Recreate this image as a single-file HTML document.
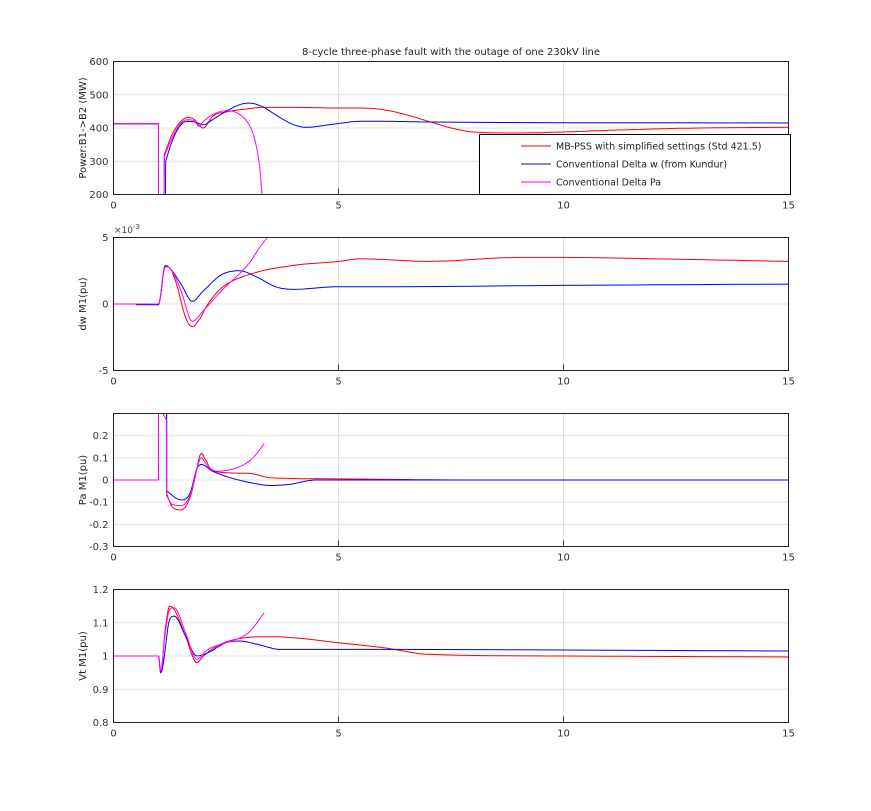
<!DOCTYPE html>
<html><head><meta charset="utf-8"><style>
body{margin:0;background:#fff}
svg{display:block;font-family:"DejaVu Sans","Liberation Sans",sans-serif}
</style></head><body>
<svg id="s" width="871" height="811" viewBox="0 0 871 811" xmlns="http://www.w3.org/2000/svg">
<rect width="871" height="811" fill="#fff"/>
<text x="451" y="55" font-size="10" text-anchor="middle" fill="#222">8-cycle three-phase fault with the outage of one 230kV line</text>
<g id="g"></g>
<rect x="479.5" y="134.5" width="311" height="60" fill="#fff" stroke="#000" stroke-width="1"/>
<line x1="521" y1="146" x2="551" y2="146" stroke="#f00"/>
<line x1="521" y1="164" x2="551" y2="164" stroke="#00f"/>
<line x1="521" y1="182" x2="551" y2="182" stroke="#f0f"/>
<g font-size="9.5" fill="#222">
<text x="556" y="149.5">MB-PSS with simplified settings (Std 421.5)</text>
<text x="556" y="167.5">Conventional Delta w (from Kundur)</text>
<text x="556" y="185.5">Conventional Delta Pa</text>
</g>
</svg>
<script>
var X0=113.5,X1=788.5;
function X(t){return X0+(X1-X0)*t/15;}
var plots=[
{top:61.5,bot:194.5,lo:200,hi:600,ticks:[200,300,400,500,600],lab:["200","300","400","500","600"],yl:"Power:B1->B2 (MW)",
 s:[["#f00",[[0,413],[1,413],[1,150],[1.12,150],[1.13,320],[1.3,380],[1.5,420],[1.65,432],[1.8,425],[1.9,408],[2,400],[2.1,415],[2.2,435],[2.5,448],[3,458],[3.3,462],[4,462],[5,460],[5.5,460],[6,455],[6.5,440],[7,420],[7.5,400],[8,388],[9,385],[10,388],[11,393],[12,397],[13,400],[15,402]]],
 ["#00f",[[0,413],[1,413],[1,150],[1.15,150],[1.16,300],[1.3,360],[1.5,410],[1.65,420],[1.8,418],[2,410],[2.2,425],[2.5,450],[2.8,470],[3,475],[3.3,465],[3.6,440],[4,410],[4.3,402],[4.8,410],[5.5,420],[6,420],[7,418],[15,415]]],
 ["#f0f",[[0,413],[1,413],[1,150],[1.12,150],[1.13,315],[1.3,370],[1.5,415],[1.65,425],[1.8,420],[1.9,405],[2,420],[2.2,440],[2.5,452],[2.7,448],[2.9,430],[3.05,400],[3.15,360],[3.25,280],[3.3,200]]]]},
{top:237.5,bot:370.5,lo:-5,hi:5,ticks:[-5,0,5],lab:["-5","0","5"],yl:"dw M1(pu)",exp:true,
 s:[["#f00",[[0,0],[1,0],[1.15,2.8],[1.25,2.7],[1.4,1.5],[1.6,-1],[1.75,-1.7],[1.9,-1.2],[2.1,0],[2.4,1.2],[3,2.2],[4,2.9],[5,3.2],[5.5,3.4],[7,3.2],[9,3.5],[10,3.5],[12,3.4],[15,3.2]]],
 ["#00f",[[0.5,-0.05],[1,-0.05],[1.15,2.9],[1.25,2.7],[1.5,1.5],[1.75,0.2],[2,1],[2.4,2.2],[2.8,2.5],[3.2,2],[3.6,1.3],[4,1.1],[5,1.3],[6,1.3],[10,1.4],[15,1.5]]],
 ["#f0f",[[0,0],[1,0],[1.15,2.8],[1.25,2.7],[1.5,1],[1.75,-1.3],[2,-0.5],[2.4,1],[3,3],[3.3,4.5],[3.5,5.3]]]]},
{top:413.5,bot:546.5,lo:-0.3,hi:0.3,ticks:[-0.3,-0.2,-0.1,0,0.1,0.2],lab:["-0.3","-0.2","-0.1","0","0.1","0.2"],yl:"Pa M1(pu)",
 s:[["#f00",[[0,0],[1,0],[1,0.35],[1.18,0.35],[1.18,-0.06],[1.3,-0.12],[1.5,-0.135],[1.7,-0.08],[1.8,0],[1.95,0.12],[2.05,0.09],[2.2,0.04],[3,0.03],[3.5,0.01],[5,0.005],[8,0],[15,0]]],
 ["#00f",[[0,0],[1,0],[1,0.35],[1.18,0.35],[1.18,-0.05],[1.5,-0.09],[1.7,-0.06],[1.85,0.05],[1.95,0.07],[2.2,0.04],[2.6,0.01],[3,-0.01],[3.5,-0.025],[3.9,-0.02],[4.5,0],[15,0]]],
 ["#f0f",[[0,0],[1,0],[1,0.35],[1.1,0.3],[1.18,0.27],[1.18,-0.07],[1.3,-0.11],[1.5,-0.115],[1.7,-0.07],[1.85,0.05],[1.95,0.1],[2.1,0.06],[2.3,0.04],[2.8,0.06],[3.1,0.1],[3.35,0.165]]]]},
{top:589.5,bot:722.5,lo:0.8,hi:1.2,ticks:[0.8,0.9,1,1.1,1.2],lab:["0.8","0.9","1","1.1","1.2"],yl:"Vt M1(pu)",
 s:[["#f00",[[0,1],[1,1],[1.05,0.95],[1.15,1.08],[1.25,1.15],[1.35,1.14],[1.6,1.06],[1.85,0.98],[2,1],[2.3,1.03],[2.7,1.05],[3.5,1.058],[4,1.055],[5,1.04],[6,1.025],[7,1.005],[10,1],[15,0.997]]],
 ["#00f",[[0,1],[1,1],[1.05,0.95],[1.25,1.11],[1.35,1.12],[1.6,1.06],[1.85,1],[2.1,1.01],[2.5,1.04],[2.8,1.045],[3.2,1.035],[3.7,1.02],[5,1.02],[15,1.015]]],
 ["#f0f",[[0,1],[1,1],[1.05,0.955],[1.15,1.07],[1.25,1.14],[1.35,1.145],[1.6,1.07],[1.85,0.99],[2.1,1.02],[2.5,1.04],[3,1.07],[3.35,1.13]]]]}
];
function mono(s){
 var n=s.length; if(n<3) return s.slice();
 var d=[],m=[];
 for(var i=0;i<n-1;i++) d.push((s[i+1][1]-s[i][1])/(s[i+1][0]-s[i][0]));
 m[0]=d[0]; m[n-1]=d[n-2];
 for(var i=1;i<n-1;i++){ m[i]=(d[i-1]*d[i]<=0)?0:(d[i-1]+d[i])/2; }
 for(var i=0;i<n-1;i++){ if(d[i]==0){m[i]=0;m[i+1]=0;continue;}
  var a=m[i]/d[i],b=m[i+1]/d[i],q=a*a+b*b; if(q>9){var t=3/Math.sqrt(q);m[i]=t*a*d[i];m[i+1]=t*b*d[i];}}
 var out=[];
 for(var i=0;i<n-1;i++){var h=s[i+1][0]-s[i][0];
  for(var k=0;k<10;k++){var t=k/10,t2=t*t,t3=t2*t;
   var y=(2*t3-3*t2+1)*s[i][1]+(t3-2*t2+t)*h*m[i]+(-2*t3+3*t2)*s[i+1][1]+(t3-t2)*h*m[i+1];
   out.push([s[i][0]+t*h,y]);}}
 out.push(s[n-1]); return out;
}
function smooth(pts){
 var segs=[[pts[0]]];
 for(var i=1;i<pts.length;i++){
  if(pts[i][0]-pts[i-1][0]<0.02){segs.push([pts[i]]);}else segs[segs.length-1].push(pts[i]);}
 var out=[];
 segs.forEach(function(s){mono(s).forEach(function(p){out.push(p);});});
 return out;
}
var h="";
plots.forEach(function(p,i){
 function Y(v){return p.bot-(p.bot-p.top)*(v-p.lo)/(p.hi-p.lo);}
 h+='<clipPath id="c'+i+'"><rect x="'+X0+'" y="'+p.top+'" width="'+(X1-X0)+'" height="'+(p.bot-p.top)+'"/></clipPath>';
 [0,5,10,15].forEach(function(t){h+='<line x1="'+X(t)+'" x2="'+X(t)+'" y1="'+p.top+'" y2="'+p.bot+'" stroke="#e0e0e0"/>';
  h+='<text x="'+X(t)+'" y="'+(p.bot+14)+'" font-size="10" text-anchor="middle" fill="#333">'+t+'</text>';
  h+='<line x1="'+X(t)+'" x2="'+X(t)+'" y1="'+p.bot+'" y2="'+(p.bot-6)+'" stroke="#333"/>';});
 p.ticks.forEach(function(v,k){var y=Y(v);h+='<line x1="'+X0+'" x2="'+X1+'" y1="'+y+'" y2="'+y+'" stroke="#e0e0e0"/>';
  h+='<text x="'+(X0-5)+'" y="'+(y+3.5)+'" font-size="10" text-anchor="end" fill="#333">'+p.lab[k]+'</text>';});
 p.s.forEach(function(s){h+='<polyline clip-path="url(#c'+i+')" fill="none" stroke="'+s[0]+'" stroke-width="1" points="'+smooth(s[1]).map(function(q){return X(q[0]).toFixed(1)+','+Y(q[1]).toFixed(1);}).join(' ')+'"/>';});
 h+='<rect x="'+X0+'" y="'+p.top+'" width="'+(X1-X0)+'" height="'+(p.bot-p.top)+'" fill="none" stroke="#222"/>';
 var cy=(p.top+p.bot)/2;
 h+='<text transform="translate(86,'+cy+') rotate(-90)" font-size="10" text-anchor="middle" fill="#222">'+p.yl.replace(/>/g,'&gt;')+'</text>';
 if(p.exp)h+='<text x="114" y="233" font-size="9" fill="#444">×10<tspan dy="-4" font-size="7">-3</tspan></text>';
});
document.getElementById('g').innerHTML=h;
</script>
</body></html>
